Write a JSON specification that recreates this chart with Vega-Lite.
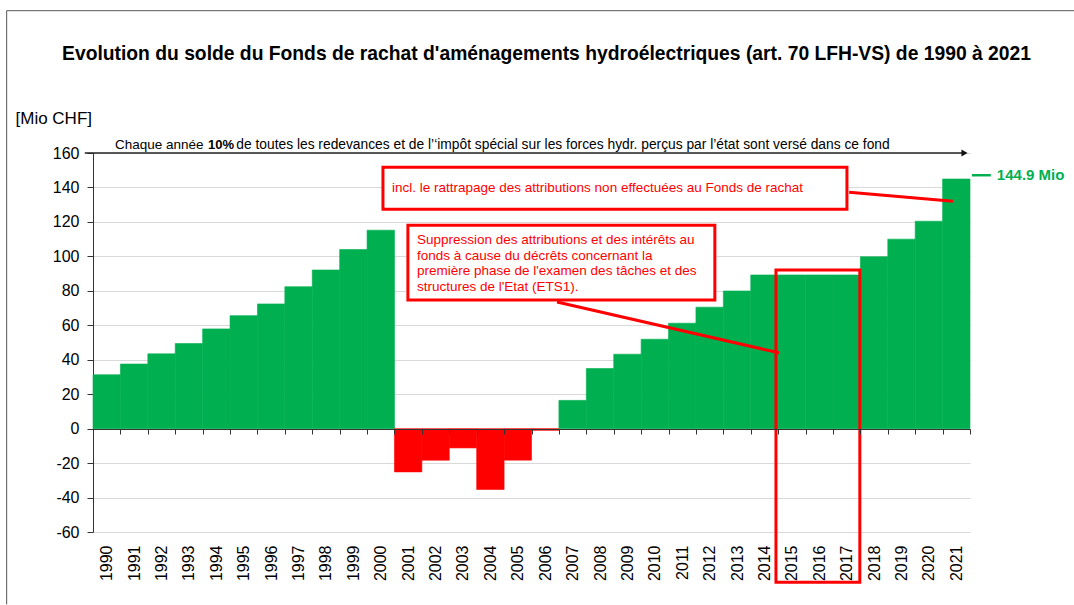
{
  "$schema": "https://vega.github.io/schema/vega-lite/v6.json",
  "width": 877,
  "height": 379,
  "autosize": {"type": "none"},
  "padding": {"left": 93, "top": 153, "right": 104, "bottom": 73},
  "background": "white",
  "config": {"view": {"stroke": null}, "font": "Liberation Sans"},
  "title": {
    "text": "Evolution du solde du Fonds de rachat d'aménagements hydroélectriques (art. 70 LFH-VS) de 1990 à 2021",
    "anchor": "middle",
    "frame": "group",
    "font": "Liberation Sans",
    "fontSize": 19.3,
    "fontWeight": "bold",
    "color": "#000000",
    "baseline": "alphabetic",
    "offset": -69,
    "dx": 15
  },
  "resolve": {"scale": {"x": "independent", "y": "independent"}},
  "layer": [
    {
      "data": {
        "values": [
          {"year": "1990", "value": 31.3},
          {"year": "1991", "value": 37.5},
          {"year": "1992", "value": 43.4},
          {"year": "1993", "value": 49.4},
          {"year": "1994", "value": 57.9},
          {"year": "1995", "value": 65.6},
          {"year": "1996", "value": 72.4},
          {"year": "1997", "value": 82.4},
          {"year": "1998", "value": 92.1},
          {"year": "1999", "value": 104.0},
          {"year": "2000", "value": 115.2},
          {"year": "2001", "value": -25.1},
          {"year": "2002", "value": -18.3},
          {"year": "2003", "value": -11.2},
          {"year": "2004", "value": -35.3},
          {"year": "2005", "value": -18.3},
          {"year": "2006", "value": -1.0},
          {"year": "2007", "value": 16.4},
          {"year": "2008", "value": 34.9},
          {"year": "2009", "value": 43.2},
          {"year": "2010", "value": 51.9},
          {"year": "2011", "value": 61.2},
          {"year": "2012", "value": 70.5},
          {"year": "2013", "value": 79.9},
          {"year": "2014", "value": 89.2},
          {"year": "2015", "value": 89.2},
          {"year": "2016", "value": 89.2},
          {"year": "2017", "value": 89.2},
          {"year": "2018", "value": 99.8},
          {"year": "2019", "value": 110.0},
          {"year": "2020", "value": 120.4},
          {"year": "2021", "value": 144.9}
        ]
      },
      "mark": {"type": "bar", "clip": false, "strokeWidth": 0.6},
      "encoding": {
        "x": {
          "field": "year",
          "type": "ordinal",
          "scale": {"paddingInner": 0, "paddingOuter": 0},
          "axis": {
            "title": null,
            "offset": -103,
            "zindex": 1,
            "domainColor": "#333333",
            "domainWidth": 1.2,
            "tickBand": "extent",
            "tickColor": "#333333",
            "tickSize": 5,
            "labelAngle": -90,
            "labelAlign": "right",
            "labelBaseline": "middle",
            "labelPadding": 111,
            "labelFontSize": 16,
            "labelColor": "#000000",
            "labelFont": "Liberation Sans"
          }
        },
        "y": {
          "field": "value",
          "type": "quantitative",
          "scale": {"domain": [-60, 160], "nice": false, "zero": false},
          "axis": {
            "values": [-60, -40, -20, 0, 20, 40, 60, 80, 100, 120, 140, 160],
            "labelOverlap": false,
            "labelExpr": "datum.value < 0 ? '-' + abs(datum.value) : '' + datum.value",
            "title": "[Mio CHF]",
            "titleAngle": 0,
            "titleAlign": "left",
            "titleBaseline": "middle",
            "titleX": -78,
            "titleY": -35,
            "titleFont": "Liberation Sans",
            "titleFontSize": 17,
            "titleFontWeight": "normal",
            "titleColor": "#000000",
            "domainColor": "#333333",
            "tickColor": "#333333",
            "tickSize": 6,
            "labelPadding": 8,
            "labelFontSize": 16,
            "labelColor": "#000000",
            "labelFont": "Liberation Sans",
            "gridColor": "#d9d9d9",
            "gridWidth": 1
          }
        },
        "color": {
          "condition": {"test": "datum.value < 0", "value": "#ff0000"},
          "value": "#00b050"
        },
        "stroke": {
          "condition": {"test": "datum.value < 0", "value": "#ff0000"},
          "value": "#00b050"
        }
      }
    },
    {
      "data": {"values": [{}]},
      "mark": {"type": "rect", "fill": "white", "stroke": "#ff0000", "strokeWidth": 3},
      "encoding": {
        "x": {"datum": 2000.08, "type": "quantitative", "scale": {"domain": [1989.5, 2021.5], "nice": false, "zero": false}, "axis": null},
        "x2": {"datum": 2017.01},
        "y": {"datum": 151.7, "type": "quantitative", "scale": {"domain": [-60, 160], "nice": false, "zero": false}, "axis": null},
        "y2": {"datum": 127.4}
      }
    },
    {
      "data": {"values": [{}]},
      "mark": {"type": "text", "align": "left", "baseline": "middle", "color": "#ff0000", "font": "Liberation Sans", "fontSize": 13.5, "text": "incl. le rattrapage  des attributions non effectuées au Fonds de rachat"},
      "encoding": {
        "x": {"datum": 2000.41, "type": "quantitative", "scale": {"domain": [1989.5, 2021.5], "nice": false, "zero": false}, "axis": null},
        "y": {"datum": 139.5, "type": "quantitative", "scale": {"domain": [-60, 160], "nice": false, "zero": false}, "axis": null}
      }
    },
    {
      "data": {"values": [{}]},
      "mark": {"type": "rule", "color": "#ff0000", "strokeWidth": 3},
      "encoding": {
        "x": {"datum": 2017.09, "type": "quantitative", "scale": {"domain": [1989.5, 2021.5], "nice": false, "zero": false}, "axis": null},
        "x2": {"datum": 2020.88},
        "y": {"datum": 137.2, "type": "quantitative", "scale": {"domain": [-60, 160], "nice": false, "zero": false}, "axis": null},
        "y2": {"datum": 132.0}
      }
    },
    {
      "data": {"values": [{}]},
      "mark": {"type": "rule", "color": "#ff0000", "strokeWidth": 3},
      "encoding": {
        "x": {"datum": 2006.43, "type": "quantitative", "scale": {"domain": [1989.5, 2021.5], "nice": false, "zero": false}, "axis": null},
        "x2": {"datum": 2014.53},
        "y": {"datum": 73.5, "type": "quantitative", "scale": {"domain": [-60, 160], "nice": false, "zero": false}, "axis": null},
        "y2": {"datum": 44.0}
      }
    },
    {
      "data": {"values": [{}]},
      "mark": {"type": "rect", "fill": "white", "stroke": "#ff0000", "strokeWidth": 3},
      "encoding": {
        "x": {"datum": 2000.99, "type": "quantitative", "scale": {"domain": [1989.5, 2021.5], "nice": false, "zero": false}, "axis": null},
        "x2": {"datum": 2012.19},
        "y": {"datum": 118.1, "type": "quantitative", "scale": {"domain": [-60, 160], "nice": false, "zero": false}, "axis": null},
        "y2": {"datum": 74.7}
      }
    },
    {
      "data": {"values": [{}]},
      "mark": {"type": "text", "align": "left", "baseline": "middle", "color": "#ff0000", "font": "Liberation Sans", "fontSize": 13.5, "lineHeight": 15.5,
        "text": ["Suppression des attributions et des intérêts au", "fonds à cause du décrêts concernant la", "première phase de l'examen des tâches et des", "structures de l'Etat (ETS1)."]},
      "encoding": {
        "x": {"datum": 2001.32, "type": "quantitative", "scale": {"domain": [1989.5, 2021.5], "nice": false, "zero": false}, "axis": null},
        "y": {"datum": 109.4, "type": "quantitative", "scale": {"domain": [-60, 160], "nice": false, "zero": false}, "axis": null}
      }
    },
    {
      "data": {"values": [{}]},
      "mark": {"type": "rect", "filled": false, "stroke": "#ff0000", "strokeWidth": 3, "clip": false},
      "encoding": {
        "x": {"datum": 2014.42, "type": "quantitative", "scale": {"domain": [1989.5, 2021.5], "nice": false, "zero": false}, "axis": null},
        "x2": {"datum": 2017.48},
        "y": {"datum": 92.1, "type": "quantitative", "scale": {"domain": [-60, 160], "nice": false, "zero": false}, "axis": null},
        "y2": {"datum": -89.2}
      }
    },
    {
      "data": {"values": [{}]},
      "mark": {"type": "rule", "color": "#222222", "strokeWidth": 1.5},
      "encoding": {
        "x": {"datum": 1989.2, "type": "quantitative", "scale": {"domain": [1989.5, 2021.5], "nice": false, "zero": false}, "axis": null},
        "x2": {"datum": 2021.3},
        "y": {"datum": 160, "type": "quantitative", "scale": {"domain": [-60, 160], "nice": false, "zero": false}, "axis": null}
      }
    },
    {
      "data": {"values": [{}]},
      "mark": {"type": "point", "shape": "triangle-right", "filled": true, "color": "#111111", "size": 50, "opacity": 1},
      "encoding": {
        "x": {"datum": 2021.3, "type": "quantitative", "scale": {"domain": [1989.5, 2021.5], "nice": false, "zero": false}, "axis": null},
        "y": {"datum": 160, "type": "quantitative", "scale": {"domain": [-60, 160], "nice": false, "zero": false}, "axis": null}
      }
    },
    {
      "data": {"values": [{}]},
      "mark": {"type": "text", "align": "left", "baseline": "middle", "color": "#000000", "font": "Liberation Sans Narrow, Liberation Sans", "fontSize": 13.5, "text": "Chaque année"},
      "encoding": {
        "x": {"datum": 1990.3, "type": "quantitative", "scale": {"domain": [1989.5, 2021.5], "nice": false, "zero": false}, "axis": null},
        "y": {"datum": 164.4, "type": "quantitative", "scale": {"domain": [-60, 160], "nice": false, "zero": false}, "axis": null}
      }
    },
    {
      "data": {"values": [{}]},
      "mark": {"type": "text", "align": "left", "baseline": "middle", "color": "#000000", "font": "Liberation Sans Narrow, Liberation Sans", "fontSize": 13, "fontWeight": "bold", "text": "10%"},
      "encoding": {
        "x": {"datum": 1993.7, "type": "quantitative", "scale": {"domain": [1989.5, 2021.5], "nice": false, "zero": false}, "axis": null},
        "y": {"datum": 164.4, "type": "quantitative", "scale": {"domain": [-60, 160], "nice": false, "zero": false}, "axis": null}
      }
    },
    {
      "data": {"values": [{}]},
      "mark": {"type": "text", "align": "right", "baseline": "middle", "color": "#000000", "font": "Liberation Sans Narrow, Liberation Sans", "fontSize": 13.8, "text": "de toutes les redevances et de l’‘impôt spécial sur les forces hydr. perçus par l’état sont versé dans ce fond"},
      "encoding": {
        "x": {"datum": 2018.57, "type": "quantitative", "scale": {"domain": [1989.5, 2021.5], "nice": false, "zero": false}, "axis": null},
        "y": {"datum": 164.4, "type": "quantitative", "scale": {"domain": [-60, 160], "nice": false, "zero": false}, "axis": null}
      }
    },
    {
      "data": {"values": [{}]},
      "mark": {"type": "rule", "color": "#00b050", "strokeWidth": 2.5},
      "encoding": {
        "x": {"datum": 2021.57, "type": "quantitative", "scale": {"domain": [1989.5, 2021.5], "nice": false, "zero": false}, "axis": null},
        "x2": {"datum": 2022.26},
        "y": {"datum": 147.1, "type": "quantitative", "scale": {"domain": [-60, 160], "nice": false, "zero": false}, "axis": null}
      }
    },
    {
      "data": {"values": [{}]},
      "mark": {"type": "text", "align": "left", "baseline": "middle", "color": "#00b050", "font": "Liberation Sans", "fontSize": 15, "fontWeight": "bold", "text": "144.9 Mio"},
      "encoding": {
        "x": {"datum": 2022.48, "type": "quantitative", "scale": {"domain": [1989.5, 2021.5], "nice": false, "zero": false}, "axis": null},
        "y": {"datum": 147.1, "type": "quantitative", "scale": {"domain": [-60, 160], "nice": false, "zero": false}, "axis": null}
      }
    },
    {
      "data": {"values": [{}]},
      "mark": {"type": "rule", "color": "#555555", "strokeWidth": 1},
      "encoding": {
        "x": {"datum": 1986.35, "type": "quantitative", "scale": {"domain": [1989.5, 2021.5], "nice": false, "zero": false}, "axis": null},
        "x2": {"datum": 2025.6},
        "y": {"datum": 242.6, "type": "quantitative", "scale": {"domain": [-60, 160], "nice": false, "zero": false}, "axis": null}
      }
    },
    {
      "data": {"values": [{}]},
      "mark": {"type": "rule", "color": "#555555", "strokeWidth": 1},
      "encoding": {
        "x": {"datum": 1986.35, "type": "quantitative", "scale": {"domain": [1989.5, 2021.5], "nice": false, "zero": false}, "axis": null},
        "y": {"datum": 242.6, "type": "quantitative", "scale": {"domain": [-60, 160], "nice": false, "zero": false}, "axis": null},
        "y2": {"datum": -102}
      }
    }
  ]
}
